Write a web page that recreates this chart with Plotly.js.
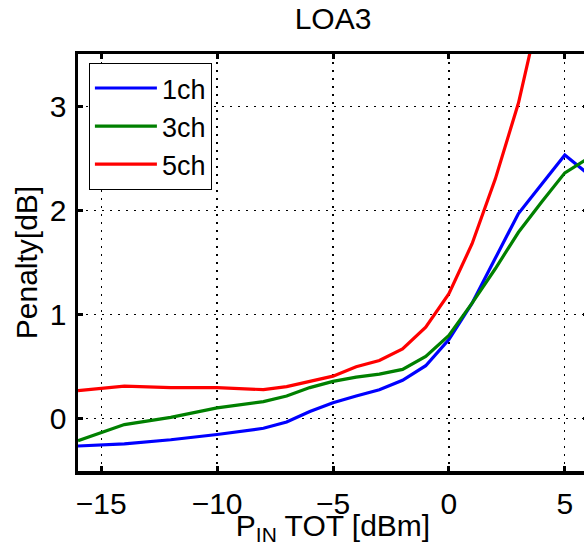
<!DOCTYPE html>
<html>
<head>
<meta charset="utf-8">
<script src="https://cdn.plot.ly/plotly-3.0.1.min.js"></script>
<style>
html,body{margin:0;padding:0;overflow:hidden;width:584px;height:546px;background:#fff;}
#chart{width:600px;height:546px;}
</style>
</head>
<body>
<div id="chart"></div>
<script>
const xPin = [-16, -14, -12, -10, -8, -7, -6, -5, -4, -3, -2, -1, 0, 1, 2, 3, 4, 5, 6];
const pen1ch = [-0.26, -0.24, -0.20, -0.15, -0.09, -0.03, 0.07, 0.155, 0.22, 0.28, 0.37, 0.51, 0.76, 1.11, 1.54, 1.97, 2.25, 2.53, 2.35];
const pen3ch = [-0.21, -0.055, 0.015, 0.105, 0.165, 0.22, 0.30, 0.36, 0.40, 0.43, 0.475, 0.60, 0.80, 1.11, 1.44, 1.79, 2.08, 2.36, 2.50];
const pen5ch = [0.27, 0.315, 0.30, 0.30, 0.28, 0.31, 0.36, 0.41, 0.50, 0.56, 0.67, 0.88, 1.20, 1.68, 2.30, 3.03, 4.0, 5.0, 6.0];
const seriesNames = ['1ch', '3ch', '5ch'];
const seriesColors = ['#0000ff', '#008000', '#ff0000'];
const xTicks = [-15, -10, -5, 0, 5];
const yTicks = [0, 1, 2, 3];

const font = 'Liberation Sans, Arial, sans-serif';
const data = [pen1ch, pen3ch, pen5ch].map((ys, i) => ({
  x: xPin, y: ys, type: 'scatter', mode: 'lines', name: seriesNames[i],
  line: {color: seriesColors[i], width: 3.2}
}));

const axisCommon = {
  showline: true, linecolor: '#000', linewidth: 3.5, mirror: 'ticks',
  ticks: 'inside', ticklen: 5, tickwidth: 3, tickcolor: '#000',
  showgrid: true, gridcolor: '#000', gridwidth: 1.2, griddash: '2px,6px',
  zeroline: false, tickfont: {family: font, size: 30, color: '#000'}
};

const layout = {
  width: 600, height: 546,
  margin: {l: 78, r: 12, t: 54, b: 75},
  paper_bgcolor: '#fff', plot_bgcolor: '#fff',
  title: {text: 'LOA3', font: {family: font, size: 30, color: '#000'}, x: 0.5, xref: 'paper', xanchor: 'center', y: 0.966, yref: 'container', yanchor: 'middle'},
  xaxis: Object.assign({}, axisCommon, {
    range: [-16, 6], tickvals: xTicks, ticklabelstandoff: 3,
    title: {text: 'P<sub>IN</sub> TOT [dBm]', font: {family: font, size: 30, color: '#000'}, standoff: 0}
  }),
  yaxis: Object.assign({}, axisCommon, {
    range: [-0.5, 3.5], tickvals: yTicks, ticklabelstandoff: 2,
    title: {text: 'Penalty[dB]', font: {family: font, size: 30, color: '#000'}, standoff: 4}
  }),
  showlegend: true,
  legend: {
    x: 0.021, y: 0.979, xanchor: 'left', yanchor: 'top',
    bgcolor: '#fff', bordercolor: '#000', borderwidth: 1.2,
    font: {family: font, size: 27, color: '#000'},
    itemwidth: 62, tracegroupgap: 0
  }
};

Plotly.newPlot('chart', data, layout, {displayModeBar: false, staticPlot: true});
</script>
</body>
</html>
